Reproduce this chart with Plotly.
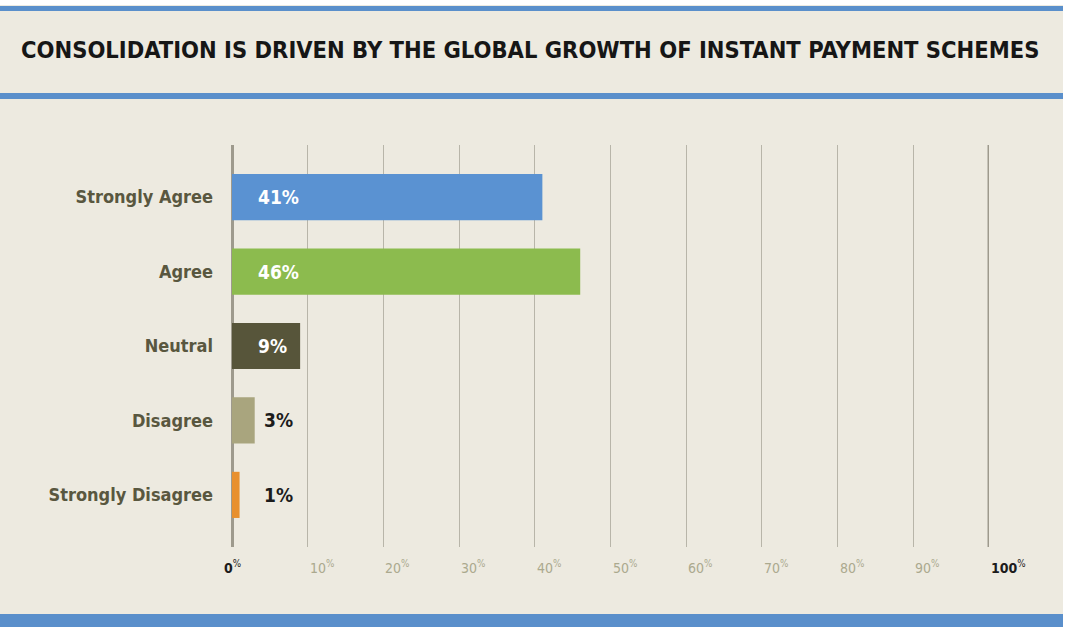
import plotly.graph_objects as go

# Survey responses
categories = ["Strongly Agree", "Agree", "Neutral", "Disagree", "Strongly Disagree"]
values = [41, 46, 9, 3, 1]
bar_colors = ["#5A92D2", "#8CBB4E", "#57553A", "#A9A57E", "#E8902E"]
label_colors = ["#FFFFFF", "#FFFFFF", "#FFFFFF", "#1C1C1C", "#1C1C1C"]
tick_values = [0, 10, 20, 30, 40, 50, 60, 70, 80, 90, 100]
tick_colors = ["#1C1C1C"] + ["#ABA98E"] * 9 + ["#1C1C1C"]

title_text = "CONSOLIDATION IS DRIVEN BY THE GLOBAL GROWTH OF INSTANT PAYMENT SCHEMES"

FONT = "Liberation Sans Narrow, DejaVu Sans Condensed, Arial Narrow, sans-serif"
W, H = 1069, 627
L, R, T, B = 232, 80, 145, 80
PW, PH = W - L - R, H - T - B

BEIGE = "#EDEAE0"
BLUE = "#5A8FCB"


def px(x):
    return (x - L) / PW


def py(y):
    return 1 - (y - T) / PH


fig = go.Figure()
fig.add_trace(go.Bar(
    x=values,
    y=categories,
    orientation="h",
    marker=dict(color=bar_colors, line=dict(width=0)),
    hoverinfo="skip",
))

shapes = [
    # page background and blue rules
    dict(type="rect", xref="paper", yref="paper", x0=px(0), x1=px(1063), y0=py(5), y1=py(614),
         fillcolor=BEIGE, line=dict(width=0), layer="below"),
    dict(type="rect", xref="paper", yref="paper", x0=px(0), x1=px(1063), y0=py(6), y1=py(11),
         fillcolor=BLUE, line=dict(width=0), layer="below"),
    dict(type="rect", xref="paper", yref="paper", x0=px(0), x1=px(1063), y0=py(93), y1=py(99),
         fillcolor=BLUE, line=dict(width=0), layer="below"),
    dict(type="rect", xref="paper", yref="paper", x0=px(0), x1=px(1063), y0=py(614), y1=py(627),
         fillcolor=BLUE, line=dict(width=0), layer="below"),
    # closing line at 100%
    dict(type="line", xref="x", yref="paper", x0=100, x1=100, y0=0, y1=1,
         line=dict(color="#9E9A8D", width=3), layer="between"),
]

annotations = [
    dict(text="<b>" + title_text + "</b>", xref="paper", yref="paper", x=px(530), y=py(50),
         xanchor="center", yanchor="middle", showarrow=False,
         font=dict(family=FONT, size=23.5, color="#161616")),
]

# value labels: inside the bar (white) or just past it (dark)
for cat, v, c in zip(categories, values, label_colors):
    inside = c == "#FFFFFF"
    annotations.append(dict(
        text="<b>%d%%</b>" % v, x=3.2 if inside else 3.9, y=cat, xref="x", yref="y",
        xanchor="left", yanchor="middle", showarrow=False,
        font=dict(family=FONT, size=19, color=c),
    ))

for t, c in zip(tick_values, tick_colors):
    annotations.append(dict(
        text="<b>%d</b><sup>%%</sup>" % t if t in (0, 100) else "%d<sup>%%</sup>" % t,
        x=t, y=0, xref="x", yref="paper",
        xanchor="left" if t else "center", yanchor="top", yshift=-9, showarrow=False,
        font=dict(family=FONT, size=14, color=c),
    ))

fig.update_layout(
    width=W, height=H,
    margin=dict(l=L, r=R, t=T, b=B),
    paper_bgcolor="#FFFFFF",
    plot_bgcolor="rgba(0,0,0,0)",
    showlegend=False,
    bargap=0.38,
    shapes=shapes,
    annotations=annotations,
    xaxis=dict(
        range=[0, 100], tickvals=tick_values, showticklabels=False,
        showgrid=True, gridcolor="#B8B5A9", gridwidth=1.3,
        zeroline=True, zerolinecolor="#9E9A8D", zerolinewidth=3,
        showline=False, fixedrange=True,
    ),
    yaxis=dict(
        type="category", categoryorder="array", categoryarray=categories,
        range=[4.7, -0.7], showgrid=False, zeroline=False, showline=False,
        ticks="", ticklabelstandoff=18,
        tickfont=dict(family=FONT, size=18, color="#59573F"),
        fixedrange=True,
    ),
)

fig.update_yaxes(tickprefix="<b>", ticksuffix="</b>")

fig.write_html("out.html")
